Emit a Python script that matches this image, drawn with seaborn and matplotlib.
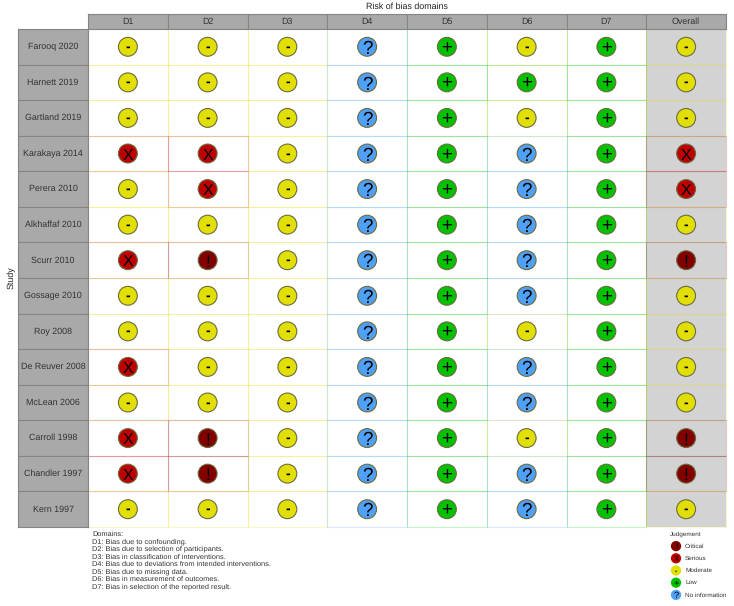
import matplotlib
matplotlib.use("Agg")
import matplotlib.pyplot as plt
from matplotlib.patches import Rectangle
import pandas as pd
import seaborn as sns

studies = ["Farooq 2020", "Harnett 2019", "Gartland 2019", "Karakaya 2014", "Perera 2010",
           "Alkhaffaf 2010", "Scurr 2010", "Gossage 2010", "Roy 2008", "De Reuver 2008",
           "McLean 2006", "Carroll 1998", "Chandler 1997", "Kern 1997"]
domains = ["D1", "D2", "D3", "D4", "D5", "D6", "D7", "Overall"]

# one string per study, one letter per domain
judgements = ["MMMNLMLM", "MMMNLLLM", "MMMNLMLM", "SSMNLNLS", "MSMNLNLS",
              "MMMNLNLM", "SCMNLNLC", "MMMNLNLM", "MMMNLMLM", "SMMNLNLM",
              "MMMNLNLM", "SCMNLMLC", "SCMNLNLC", "MMMNLNLM"]

levels = ["C", "S", "M", "L", "N"]
level_names = ["Critical", "Serious", "Moderate", "Low", "No information"]
symbols = {"C": "!", "S": "X", "M": "-", "L": "+", "N": "?"}
colours = {"C": "#820000", "S": "#BF0000", "M": "#E2DF07", "L": "#02C100", "N": "#4EA1F7"}

# font scale and vertical nudge (fraction of font size) per symbol
sym_scale = {"C": 1.25, "S": 1.15, "M": 1.0, "L": 1.35, "N": 1.35}
sym_nudge = {"C": -0.12, "S": -0.12, "M": -0.02, "L": -0.1, "N": -0.12}

domain_notes = ["Domains:",
                "D1: Bias due to confounding.",
                "D2: Bias due to selection of participants.",
                "D3: Bias in classification of interventions.",
                "D4: Bias due to deviations from intended interventions.",
                "D5: Bias due to missing data.",
                "D6: Bias in measurement of outcomes.",
                "D7: Bias in selection of the reported result."]

W, H = 734, 606
STRIP = "#A9A9A9"
STRIP_EDGE = "#858585"
TEXT = "#333333"

sns.set_theme(style="white")
plt.rcParams["font.family"] = ["Liberation Sans", "DejaVu Sans"]
plt.rcParams["text.hinting"] = "no_hinting"


def px_axes(fig, x0, y0, x1, y1):
    # pixel box, y measured from the top of the image
    return fig.add_axes([x0 / W, 1 - y1 / H, (x1 - x0) / W, (y1 - y0) / H])


def draw_symbol(ax, x, y, level, fontsize):
    size = fontsize * sym_scale[level]
    ax.annotate(symbols[level], (x, y), xytext=(0, sym_nudge[level] * size), textcoords="offset points",
                ha="center", va="center", fontsize=size, color="black", zorder=5,
                fontweight="bold" if level == "M" else "normal")


df = pd.DataFrame(
    [(s, d, judgements[i][j]) for i, s in enumerate(studies) for j, d in enumerate(domains)],
    columns=["study", "domain", "level"],
)

fig = plt.figure(figsize=(W / 100, H / 100), dpi=100, facecolor="white")

ax = px_axes(fig, 88, 29, 726, 527)
sns.scatterplot(data=df, x="domain", y="study", hue="level", palette=colours, s=185,
                edgecolor="#6b6b40", linewidth=0.8, legend=False, zorder=4, ax=ax)
ax.set_xlim(-0.5, len(domains) - 0.5)
ax.set_ylim(len(studies) - 0.5, -0.5)
ax.set_xlabel("")
ax.set_ylabel("")
ax.set_xticks([])
ax.set_yticks([])
for sp in ax.spines.values():
    sp.set_visible(False)

# overall column background
ax.axvspan(len(domains) - 1.5, len(domains) - 0.5, color="#D3D3D3", lw=0, zorder=0)

# tile borders take the colour of the judgement
for i, s in enumerate(studies):
    for j, d in enumerate(domains):
        ax.add_patch(Rectangle((j - 0.5, i - 0.5), 1, 1, fill=False, lw=0.8, alpha=0.22,
                               edgecolor=colours[judgements[i][j]], zorder=2, clip_on=False))
for row in df.itertuples():
    draw_symbol(ax, row.domain, row.study, row.level, 10)

# column headers
top = px_axes(fig, 88, 14, 726, 29)
top.set_xlim(-0.5, len(domains) - 0.5)
top.set_ylim(0, 1)
top.set_facecolor(STRIP)
top.set_xticks([])
top.set_yticks([])
for j, d in enumerate(domains):
    top.add_patch(Rectangle((j - 0.5, 0), 1, 1, facecolor=STRIP, edgecolor=STRIP_EDGE, lw=0.8))
    top.text(j, 0.47, d, ha="center", va="center", fontsize=6.4, color=TEXT)
for sp in top.spines.values():
    sp.set_color(STRIP_EDGE)
    sp.set_linewidth(0.8)

# study labels
left = px_axes(fig, 18, 29, 88, 527)
left.set_xlim(0, 1)
left.set_ylim(len(studies) - 0.5, -0.5)
left.set_facecolor(STRIP)
left.set_xticks([])
left.set_yticks([])
for i, s in enumerate(studies):
    left.add_patch(Rectangle((0, i - 0.5), 1, 1, facecolor=STRIP, edgecolor=STRIP_EDGE, lw=0.8))
    left.text(0.5, i, s, ha="center", va="center", fontsize=6.4, color=TEXT)
for sp in left.spines.values():
    sp.set_color(STRIP_EDGE)
    sp.set_linewidth(0.8)

fig.text(407 / W, 1 - 7 / H, "Risk of bias domains", ha="center", va="center", fontsize=6.4, color="#222222")
fig.text(11 / W, 1 - 278 / H, "Study", ha="center", va="center", rotation=90, fontsize=6.4, color="#222222")

# domain notes
line_y = 534
for note in domain_notes:
    fig.text(92.5 / W, 1 - line_y / H, note, ha="left", va="center", fontsize=5.3, color=TEXT)
    line_y += 7.6

# legend
fig.text(670 / W, 1 - 534 / H, "Judgement", ha="left", va="center", fontsize=4.6, color=TEXT)
leg = px_axes(fig, 664, 540, 730, 601)
leg_df = pd.DataFrame({"level": levels, "name": level_names, "x": [0] * 5})
sns.scatterplot(data=leg_df, x="x", y="name", hue="level", palette=colours, s=55,
                edgecolor="none", legend=False, clip_on=False, ax=leg)
leg.set_xlim(-12 / 66, 54 / 66)
leg.set_ylim(4.5, -0.5)
leg.axis("off")
for i, (lev, name) in enumerate(zip(levels, level_names)):
    draw_symbol(leg, 0, i, lev, 5)
    leg.text(9 / 66, i, name, ha="left", va="center", fontsize=4.6, color=TEXT)

fig.savefig("out.png", dpi=100)
